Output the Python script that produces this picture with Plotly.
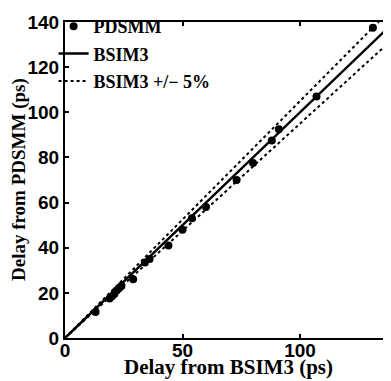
import plotly.graph_objects as go

# Data
bsim3_delay = [13, 19, 20, 21, 22, 23, 24, 29, 34, 36, 44, 50, 54, 60, 73, 80, 88, 91, 107, 131]
pdsmm_delay = [11.5, 17.5, 18.5, 19.5, 21, 22, 23, 26, 33.5, 35, 41, 48, 53, 58, 70, 77.5, 87.5, 92.5, 107, 137.5]
ref_x = [0, 140]
tolerance = 0.05

x_ticks = [0, 50, 100]
y_ticks = [0, 20, 40, 60, 80, 100, 120, 140]

ref_y = list(ref_x)
upper_y = [v * (1 + tolerance) for v in ref_x]
lower_y = [v * (1 - tolerance) for v in ref_x]

serif = "Liberation Serif, Times New Roman, serif"
sans = "Liberation Sans, Arial, sans-serif"

fig = go.Figure()
fig.add_trace(go.Scatter(x=bsim3_delay, y=pdsmm_delay, mode="markers", name="PDSMM",
                         legendgroup="a",
                         marker=dict(color="black", size=8, symbol="circle")))
fig.add_trace(go.Scatter(x=ref_x, y=ref_y, mode="lines", name="BSIM3", legendgroup="b",
                         line=dict(color="black", width=2.5)))
fig.add_trace(go.Scatter(x=ref_x, y=upper_y, mode="lines", name="BSIM3 +/\u2212 5%",
                         legendgroup="c",
                         line=dict(color="black", width=2, dash="dot")))
fig.add_trace(go.Scatter(x=ref_x, y=lower_y, mode="lines", name="lower", showlegend=False,
                         legendgroup="c",
                         line=dict(color="black", width=2, dash="dot")))

# page body has ~8px margin; figure is sized to fit the 391x381 window
W, H = 383, 373
L, T, B = 57, 5, 43
pw, ph = W - L, H - T - B

fig.update_layout(
    width=W, height=H,
    margin=dict(l=L, r=0, t=T, b=B),
    paper_bgcolor="white", plot_bgcolor="white",
    showlegend=True,
    legend=dict(x=-0.035, y=1.045, xanchor="left", yanchor="top",
                bgcolor="rgba(0,0,0,0)", borderwidth=0,
                font=dict(family=serif, size=18, color="black", weight="bold"),
                tracegroupgap=1, itemwidth=30),
    xaxis=dict(range=[0, 138.7], tickvals=x_ticks, ticks="inside", ticklen=4,
               tickwidth=1.5, tickcolor="black", automargin=False,
               showline=True, linecolor="black", linewidth=2, mirror="ticks",
               showgrid=False, zeroline=False, ticklabelstandoff=-6,
               tickfont=dict(family=sans, size=19, color="black", weight="bold")),
    yaxis=dict(range=[0, 140], tickvals=y_ticks, ticks="inside", ticklen=4,
               tickwidth=1.5, tickcolor="black", automargin=False,
               showline=True, linecolor="black", linewidth=2, mirror=False,
               showgrid=False, zeroline=False, ticklabeloverflow="allow",
               tickfont=dict(family=sans, size=19, color="black", weight="bold")),
    annotations=[
        dict(text="Delay from BSIM3 (ps)", xref="paper", yref="paper",
             x=(220 - L) / pw, y=-(H - (T + ph)) / ph, xanchor="center", yanchor="bottom",
             showarrow=False, borderpad=0,
             font=dict(family=serif, size=21, color="black", weight="bold")),
        dict(text="Delay from PDSMM (ps)", xref="paper", yref="paper",
             x=-(L - 11) / pw, y=0.5, xanchor="center", yanchor="middle",
             textangle=-90, showarrow=False, borderpad=0,
             font=dict(family=serif, size=19, color="black", weight="bold")),
    ],
)

fig.write_html("out.html")
